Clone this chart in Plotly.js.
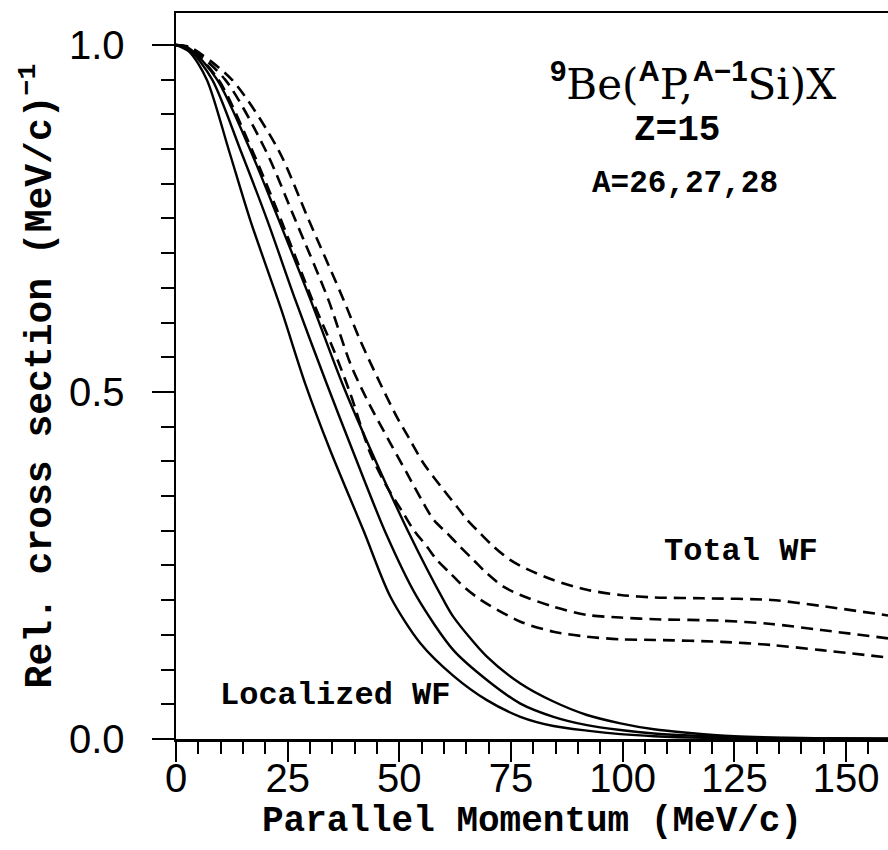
<!DOCTYPE html>
<html>
<head>
<meta charset="utf-8">
<script src="https://cdn.plot.ly/plotly-3.0.1.min.js"></script>
<style>html,body{margin:0;padding:0;background:#fff;}</style>
</head>
<body>
<div id="chart" style="width:888px;height:850px;"></div>
<script>
// Localized WF (solid)
const xS1 = [0, 3, 6.9, 11.8, 16.6, 23.5, 28.9, 34.5, 42.0, 48.0, 54.7, 62.1, 69.6, 77.1, 84.5, 92.0, 99.5, 107, 120, 140, 159.4];
const yS1 = [1.0, 0.99, 0.95, 0.849, 0.748, 0.62, 0.5125, 0.4164, 0.30, 0.205, 0.138, 0.091, 0.056, 0.032, 0.0187, 0.012, 0.007, 0.004, 0.0015, 0.0005, 0.0002];
const xS2 = [0, 3, 8.1, 14.4, 20.4, 26.7, 33.7, 39.5, 47.0, 53.9, 62.1, 69.6, 77.1, 84.5, 92.0, 99.5, 107, 115, 125, 140, 159.4];
const yS2 = [1.0, 0.993, 0.95, 0.849, 0.748, 0.633, 0.5125, 0.4164, 0.296, 0.205, 0.128, 0.085, 0.051, 0.032, 0.020, 0.013, 0.008, 0.005, 0.0025, 0.001, 0.0003];
const xS3 = [0, 3, 9.2, 16.6, 23.0, 30.1, 37.2, 43.6, 52.2, 59.9, 62.1, 69.6, 77.1, 84.5, 92.0, 99.5, 107, 114.4, 125, 140, 159.4];
const yS3 = [1.0, 0.995, 0.95, 0.849, 0.748, 0.633, 0.5125, 0.4164, 0.296, 0.200, 0.176, 0.1186, 0.080, 0.054, 0.0346, 0.0226, 0.014, 0.009, 0.004, 0.0015, 0.0005];
// Total WF (dashed)
const xD3 = [0, 3, 9.5, 17.0, 23.5, 30.5, 35.3, 39.0, 43.5, 47.2, 50.9, 53.2, 56.2, 58.4, 61.4, 64.4, 68.1, 77.1, 84.5, 92.0, 99.5, 107.2, 122.1, 133.3, 144.5, 159.4];
const yD3 = [1.0, 0.995, 0.95, 0.849, 0.748, 0.633, 0.5605, 0.4981, 0.4116, 0.3636, 0.3252, 0.3012, 0.2771, 0.2579, 0.2388, 0.2195, 0.201, 0.169, 0.1546, 0.1474, 0.1436, 0.1427, 0.140, 0.1354, 0.128, 0.1175];
const xD2 = [0, 3, 11.0, 20.0, 26.7, 34.1, 39.0, 42.8, 48.0, 51.7, 55.4, 57.7, 60.7, 63.6, 66.6, 69.6, 73.3, 77.1, 84.5, 92.0, 99.5, 107.2, 122.1, 133.3, 144.5, 159.4];
const yD2 = [1.0, 0.996, 0.95, 0.849, 0.748, 0.633, 0.5413, 0.4885, 0.4261, 0.3829, 0.3396, 0.3156, 0.2964, 0.2771, 0.2579, 0.2387, 0.2195, 0.2075, 0.1906, 0.1787, 0.175, 0.1725, 0.1705, 0.1657, 0.157, 0.145];
const xD1 = [0, 3, 12.5, 22.9, 29.7, 37.5, 41.2, 45.7, 49.4, 52.4, 55.4, 59.9, 62.9, 65.2, 68.1, 71.1, 74.8, 78.5, 84.5, 92.0, 99.5, 107.0, 118.0, 133.3, 144.5, 159.4];
const yD1 = [1.0, 0.997, 0.95, 0.849, 0.748, 0.633, 0.5749, 0.5125, 0.4645, 0.4308, 0.3973, 0.3588, 0.3347, 0.3156, 0.2964, 0.2772, 0.258, 0.245, 0.229, 0.215, 0.2075, 0.204, 0.2027, 0.2003, 0.1916, 0.178];

const xTicks = [0, 25, 50, 75, 100, 125, 150];
const yTicks = [0, 0.5, 1.0];
const yTickText = ["0.0", "0.5", "1.0"];

const solid = {color: '#000', width: 2.4, shape: 'spline', smoothing: 0.8};
const dashed = {color: '#000', width: 2.6, shape: 'spline', smoothing: 0.8, dash: '12px,7px'};

const series = [
  [xS1, yS1, solid], [xS2, yS2, solid], [xS3, yS3, solid],
  [xD3, yD3, dashed], [xD2, yD2, dashed], [xD1, yD1, dashed]
];
const traces = series.map(s => ({x: s[0], y: s[1], mode: 'lines', line: s[2], hoverinfo: 'skip', showlegend: false}));

const monoFont = 'Liberation Mono, Courier New, monospace';
const sansFont = 'Liberation Sans, Arial, sans-serif';

const layout = {
  width: 888, height: 850,
  margin: {l: 176, r: 0, t: 13, b: 111, pad: 0},
  paper_bgcolor: '#fff', plot_bgcolor: '#fff',
  showlegend: false,
  xaxis: {
    range: [0, 159.4], showgrid: false, zeroline: false,
    showline: true, linecolor: '#000', linewidth: 2.5, mirror: true,
    tickmode: 'array', tickvals: xTicks, ticktext: xTicks.map(String),
    ticks: 'outside', ticklen: 20, tickwidth: 2, tickcolor: '#000',
    ticklabelstandoff: -18,
    tickfont: {family: sansFont, size: 40, color: '#000'},
    minor: {dtick: 5, ticks: 'outside', ticklen: 12, tickwidth: 2, tickcolor: '#000', showgrid: false},
    title: {text: 'Parallel Momentum (MeV/c)', font: {family: monoFont, size: 36, color: '#000', weight: 'bold'}, standoff: 8}
  },
  yaxis: {
    range: [0, 1.046], showgrid: false, zeroline: false,
    showline: true, linecolor: '#000', linewidth: 2.5, mirror: false,
    tickmode: 'array', tickvals: yTicks, ticktext: yTickText,
    ticks: 'outside', ticklen: 22, tickwidth: 2, tickcolor: '#000',
    ticklabelstandoff: 19,
    tickfont: {family: sansFont, size: 40, color: '#000'},
    minor: {dtick: 0.05, ticks: 'outside', ticklen: 13, tickwidth: 2, tickcolor: '#000', showgrid: false},
    title: {text: 'Rel. cross section (MeV/c)<sup>−1</sup>', font: {family: monoFont, size: 38, color: '#000', weight: 'bold'}, standoff: 6}
  },
  annotations: [
    {xref: 'x', yref: 'y', x: 115.8, y: 0.947, xanchor: 'center', yanchor: 'middle', showarrow: false,
     text: '<span style="font-family:Liberation Sans;font-weight:bold">' + '<sup>9</sup></span>Be(<span style="font-family:Liberation Sans;font-weight:bold"><sup>A</sup></span>P,<span style="font-family:Liberation Sans;font-weight:bold"><sup>A−1</sup></span>Si)X',
     font: {family: 'DejaVu Serif, Liberation Serif, serif', size: 42, color: '#000'}},
    {xref: 'x', yref: 'y', x: 112.2, y: 0.877, xanchor: 'center', yanchor: 'middle', showarrow: false,
     text: 'Z=15', font: {family: monoFont, size: 36, color: '#000', weight: 'bold'}},
    {xref: 'x', yref: 'y', x: 114.0, y: 0.801, xanchor: 'center', yanchor: 'middle', showarrow: false,
     text: 'A=26,27,28', font: {family: monoFont, size: 31, color: '#000', weight: 'bold'}},
    {xref: 'x', yref: 'y', x: 126.5, y: 0.2695, xanchor: 'center', yanchor: 'middle', showarrow: false,
     text: 'Total WF', font: {family: monoFont, size: 32, color: '#000', weight: 'bold'}},
    {xref: 'x', yref: 'y', x: 35.7, y: 0.062, xanchor: 'center', yanchor: 'middle', showarrow: false,
     text: 'Localized WF', font: {family: monoFont, size: 32, color: '#000', weight: 'bold'}}
  ]
};

Plotly.newPlot('chart', traces, layout, {staticPlot: true, displayModeBar: false});
</script>
</body>
</html>
